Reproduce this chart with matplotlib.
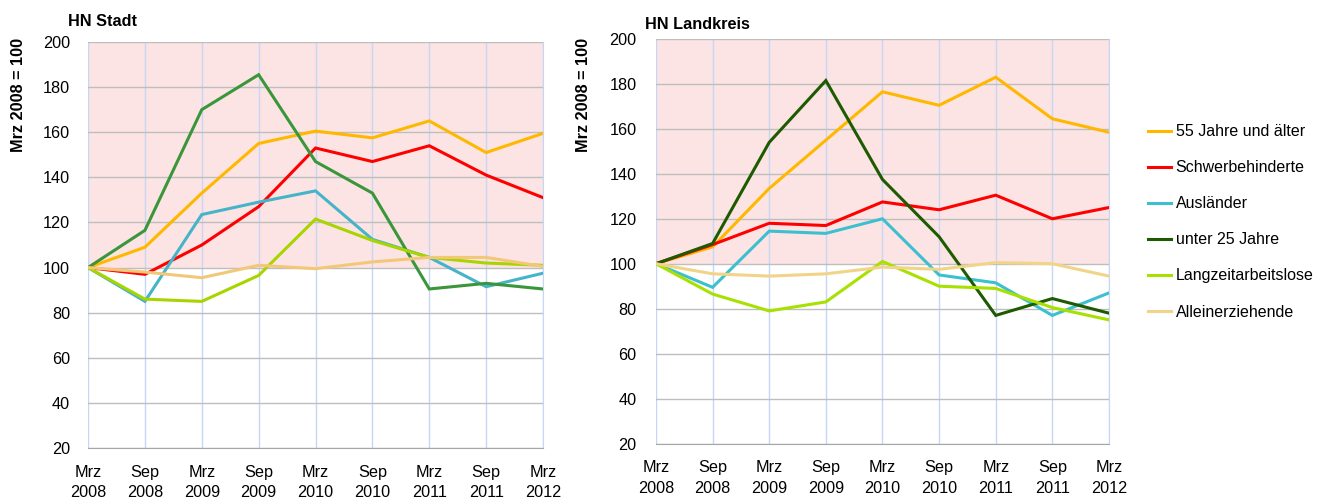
import numpy as np
import matplotlib
matplotlib.use("Agg")
from matplotlib import pyplot as plt

plt.rcParams['font.family'] = ['Liberation Sans', 'DejaVu Sans']

# Zeitpunkte
perioden = ["Mrz\n2008", "Sep\n2008", "Mrz\n2009", "Sep\n2009", "Mrz\n2010",
            "Sep\n2010", "Mrz\n2011", "Sep\n2011", "Mrz\n2012"]

serien = ["55 Jahre und älter", "Schwerbehinderte", "Ausländer",
          "unter 25 Jahre", "Langzeitarbeitslose", "Alleinerziehende"]

# HN Stadt (Mrz 2008 = 100)
stadt_55 = [100, 109, 133, 155, 160.5, 157.5, 165, 151, 159.5]
stadt_schwer = [100, 97, 110, 127, 153, 147, 154, 141, 131]
stadt_ausl = [100, 85, 123.5, 129, 134, 112.5, 104.5, 91.5, 97.5]
stadt_u25 = [100, 116.5, 170, 185.5, 147, 133, 90.5, 93, 90.5]
stadt_langzeit = [100, 86, 85, 96.5, 121.5, 112, 104.5, 102, 101]
stadt_allein = [100, 98, 95.5, 101, 99.5, 102.5, 104.5, 104.5, 100.5]

# HN Landkreis (Mrz 2008 = 100)
land_55 = [100, 107.5, 133.5, 155, 176.5, 170.5, 183, 164.5, 158.5]
land_schwer = [100, 108.5, 118, 117, 127.5, 124, 130.5, 120, 125]
land_ausl = [100, 89.5, 114.5, 113.5, 120, 95, 91.5, 77, 87]
land_u25 = [100, 109, 154, 181.5, 137.5, 112, 77, 84.5, 78]
land_langzeit = [100, 86.5, 79, 83, 101, 90, 89, 80.5, 75]
land_allein = [100, 95.5, 94.5, 95.5, 98.5, 97.5, 100.5, 100, 94.5]

farben_stadt = ["#FFB800", "#FF0000", "#45B4C8", "#3A963A", "#A8D400", "#F2C878"]
farben_land = ["#FFB800", "#FF0000", "#3CC0D0", "#1E5A00", "#A8E000", "#F2D488"]


def zeichne(ax, daten, farben, titel, tx, ty, ypad):
    x = np.arange(len(perioden))
    ax.axhspan(100, 200, color="#FCE4E4", zorder=0, lw=0)
    ax.set_axisbelow(True)
    ax.yaxis.grid(True, color="#BEBEBE", lw=1.0, zorder=1)
    ax.xaxis.grid(True, color="#C6D6F6", lw=1.0, zorder=1)
    for werte, farbe, name in zip(daten, farben, serien):
        ax.plot(x, werte, color=farbe, lw=2.2, label=name, zorder=3,
                solid_joinstyle="miter")
    ax.set_xlim(0, len(perioden) - 1)
    ax.set_ylim(20, 200)
    ax.set_yticks(range(20, 201, 20))
    ax.set_xticks(x)
    ax.set_xticklabels(perioden, fontsize=11.7, linespacing=1.45)
    ax.tick_params(axis="both", length=0, labelsize=11.7, colors="black")
    ax.tick_params(axis="x", pad=12)
    ax.tick_params(axis="y", pad=ypad)
    for s in ["top", "left"]:
        ax.spines[s].set_visible(False)
    ax.spines["bottom"].set_color("#A6A6A6")
    ax.spines["right"].set_color("#C6D6F6")
    ax.set_title(titel, fontsize=11.7, fontweight="bold", loc="left",
                 x=tx, y=ty, pad=0)


fig = plt.figure(figsize=(13.18, 5.0), dpi=100)
ax1 = fig.add_axes([0.0668, 0.104, 0.3452, 0.812])
ax2 = fig.add_axes([0.4977, 0.113, 0.3437, 0.809])

zeichne(ax1, [stadt_55, stadt_schwer, stadt_ausl, stadt_u25, stadt_langzeit, stadt_allein],
        farben_stadt, "HN Stadt", -0.044, 1.039, 13)
zeichne(ax2, [land_55, land_schwer, land_ausl, land_u25, land_langzeit, land_allein],
        farben_land, "HN Landkreis", -0.024, 1.025, 14)

fig.text(0.014, 0.81, "Mrz 2008 = 100", rotation=90, ha="center", va="center",
         fontsize=11.7, fontweight="bold")
fig.text(0.4425, 0.81, "Mrz 2008 = 100", rotation=90, ha="center", va="center",
         fontsize=11.7, fontweight="bold")

ax2.legend(loc="center left", bbox_to_anchor=(1.054, 0.548), frameon=False,
           fontsize=11.5, handlelength=1.44, labelspacing=1.32, handletextpad=0.3)

fig.savefig("out.png", dpi=100)
